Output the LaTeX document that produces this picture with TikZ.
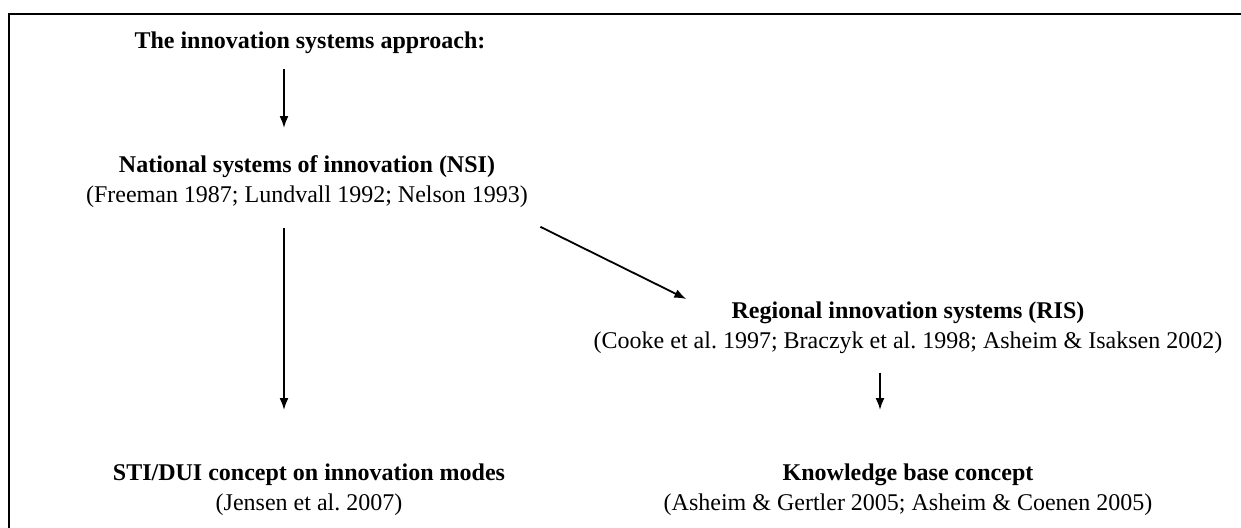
\documentclass[tikz,border=0pt]{standalone}
\usepackage{fontspec}
\setmainfont{Liberation Serif}
\frenchspacing
\usetikzlibrary{arrows.meta}
\tikzset{
  block/.style={align=center, inner sep=0pt, font=\fontsize{12}{15}\selectfont},
  link/.style={line width=0.9pt, -{Latex[length=6pt,width=4.5pt]}},
  frame/.style={line width=1.2pt}
}

\begin{document}
\begin{tikzpicture}[x=0.5pt,y=-0.5pt]
	%%%%% START %%%%%
	\useasboundingbox (0,0) rectangle (1241,527);
	
	\draw[frame] (9,540) -- (9,14) -- (1250,14);
	
	\node[block, anchor=base] (approach) at (310,48) {\textbf{The innovation systems approach:}};
	\node[block, anchor=north] (nsi) at (307,155) {\textbf{National systems of innovation (NSI)}\\(Freeman 1987; Lundvall 1992; Nelson 1993)};
	\node[block, anchor=north] (ris) at (908,301) {\textbf{Regional innovation systems (RIS)}\\(Cooke et al. 1997; Braczyk et al. 1998; Asheim \& Isaksen 2002)};
	\node[block, anchor=north] (sti) at (309,463) {\textbf{STI/DUI concept on innovation modes}\\(Jensen et al. 2007)};
	\node[block, anchor=north] (kb) at (908,463) {\textbf{Knowledge base concept}\\(Asheim \& Gertler 2005; Asheim \& Coenen 2005)};
	
	\draw[link] ([shift={(-26,15)}]approach.south) -- ([shift={(-23,-27)}]nsi.north);
	\draw[link] ([shift={(-23,20)}]nsi.south) -- ([shift={(-25,-53)}]sti.north);
	\draw[link] ([shift={(12,19)}]nsi.south east) -- ([shift={(93,-2)}]ris.north west);
	\draw[link] ([shift={(-28,19)}]ris.south) -- ([shift={(-28,-53)}]kb.north);
	
	%%%%% END %%%%%
\end{tikzpicture}
\end{document}
